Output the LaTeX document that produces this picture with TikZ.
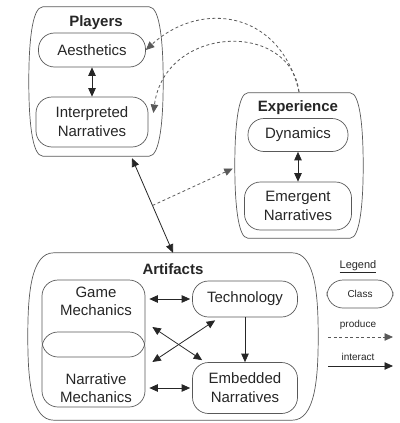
\documentclass[tikz,border=0pt]{standalone}
\usepackage{fontspec}
\setmainfont{Liberation Sans}
\usetikzlibrary{arrows.meta,calc}

% outline of a group: straight top and bottom, bulging sides
\newcommand\bulgeframe[2]{%
  \draw[frame] ([xshift=#2]#1.north west) -- ([xshift=-#2]#1.north east)
    .. controls ([xshift=-3pt]#1.north east) and ($(#1.north east)!0.5!(#1.east)$) .. (#1.east)
    .. controls ($(#1.south east)!0.5!(#1.east)$) and ([xshift=-3pt]#1.south east) .. ([xshift=-#2]#1.south east)
    -- ([xshift=#2]#1.south west)
    .. controls ([xshift=3pt]#1.south west) and ($(#1.south west)!0.5!(#1.west)$) .. (#1.west)
    .. controls ($(#1.north west)!0.5!(#1.west)$) and ([xshift=3pt]#1.north west) .. cycle;}

\begin{document}
\begin{tikzpicture}[x=1pt,y=-1pt,
    every node/.style={text=black!85},
    frame/.style={draw=black!65,line width=0.7pt},
    region/.style={inner sep=0pt},
    cls/.style={frame,rounded corners=16pt,inner sep=0pt,align=center,
      font=\fontsize{15}{19}\selectfont},
    txt/.style={align=center,font=\fontsize{15}{18}\selectfont},
    title/.style={font=\fontsize{15}{18}\selectfont\bfseries},
    small/.style={font=\fontsize{10}{12}\selectfont},
    tip/.style={-{Triangle[length=8.5pt,width=7.5pt]}},
    inter/.style={draw=black!85,line width=0.8pt},
    inter2/.style={inter,{Triangle[length=8.5pt,width=7.5pt]}-{Triangle[length=8.5pt,width=7.5pt]}},
    prod/.style={draw=black!65,line width=0.8pt,dash pattern=on 3pt off 2.5pt,tip}]
  \useasboundingbox (0,0) rectangle (399,423);

  % groups
  \node[region,minimum width=134pt,minimum height=149pt] (players) at (96,81.5) {};
  \node[region,minimum width=128pt,minimum height=145pt] (experience) at (299,165.5) {};
  \node[region,minimum width=290pt,minimum height=167pt] (artifacts) at (173,336.5) {};
  \bulgeframe{players}{14pt}
  \bulgeframe{experience}{13pt}
  \bulgeframe{artifacts}{26pt}
  \node[title] (playerstitle) at (96,23) {Players};
  \node[title] (experiencetitle) at (298,108) {Experience};
  \node[title] (artifactstitle) at (173,269) {Artifacts};

  % classes
  \node[cls,minimum width=107pt,minimum height=34pt] (aes) at (92,50) {Aesthetics};
  \node[cls,minimum width=112pt,minimum height=50pt] (interp) at (92,122) {Interpreted\\Narratives};
  \node[cls,minimum width=100pt,minimum height=33pt] (dyn) at (298,135) {Dynamics};
  \node[cls,minimum width=107pt,minimum height=48pt] (emerg) at (298,206) {Emergent\\Narratives};
  \node[cls,minimum width=103pt,minimum height=77pt] (gm) at (93.5,318.5) {};
  \node[cls,minimum width=103pt,minimum height=75pt] (nm) at (93.5,369.5) {};
  \node[txt] (gmtext) at (96,301) {Game\\Mechanics};
  \node[txt] (nmtext) at (96,388) {Narrative\\Mechanics};
  \node[cls,minimum width=105pt,minimum height=36pt] (tech) at (245,299) {Technology};
  \node[cls,minimum width=105pt,minimum height=51pt] (emb) at (245,388) {Embedded\\Narratives};

  % interact
  \draw[inter2] (aes) -- (interp);
  \draw[inter2] (dyn) -- (emerg);
  \draw[inter2] ([xshift=36pt,yshift=-2pt]players.south) -- coordinate[pos=0.5] (meet) (artifacts.north);
  \draw[inter2,shorten <=4pt,shorten >=2pt] (tech.west -| gm.east) -- (tech.west);
  \draw[inter2,shorten <=4pt,shorten >=2pt] (emb.west -| nm.east) -- (emb.west);
  \draw[inter,tip] (tech) -- (emb);
  \draw[inter2] ([xshift=7pt,yshift=-8.5pt]gm.east) -- ([xshift=10pt,yshift=2pt]emb.north west);
  \draw[inter2] ([xshift=23pt,yshift=-3pt]tech.south west) -- ([xshift=7pt,yshift=7.5pt]nm.east);

  % produce
  \draw[prod] (meet) -- ([yshift=-3pt,xshift=-2pt]experience.west);
  \draw[prod] ([yshift=1pt]experience.north) .. controls (280,10) and (200,0) .. (aes.east);
  \draw[prod] ([yshift=1pt]experience.north) .. controls (290,20) and (165,25) .. ([xshift=5pt,yshift=9pt]interp.east);

  % legend
  \node[font=\fontsize{11}{13}\selectfont] (legend) at (358,267) {\underline{Legend}};
  \node[cls,small,minimum width=66pt,minimum height=28pt] (classkey) at (360,294) {Class};
  \node[small] (producekey) at (358,325) {produce};
  \node[small] (interactkey) at (358,357) {interact};
  \coordinate (prodfrom) at (328,337);
  \coordinate (prodto) at (393,337);
  \coordinate (interfrom) at (328,366);
  \coordinate (interto) at (393,366);
  \draw[prod] (prodfrom) -- (prodto);
  \draw[inter,tip] (interfrom) -- (interto);
\end{tikzpicture}
\end{document}
